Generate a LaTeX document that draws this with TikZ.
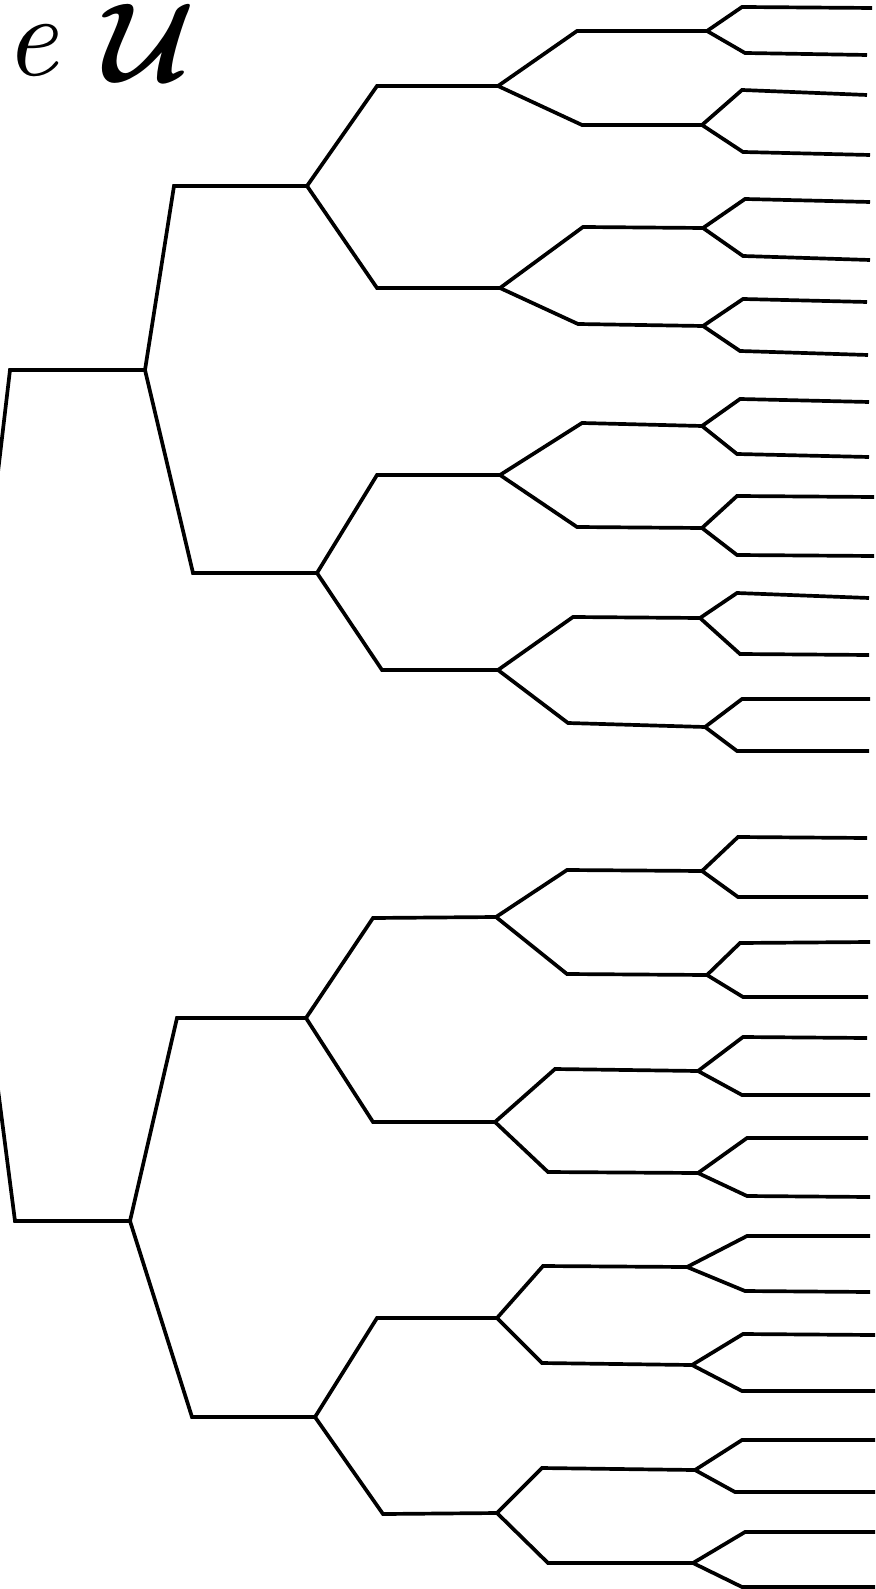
\documentclass[tikz,border=0pt]{standalone}
\usepackage{fontspec}
\usepackage{graphicx}
\newcommand\mybranch[6]{\coordinate (#2s) at (#3,#4); \coordinate (#2) at (#5,#6); \draw[branch] (#1) -- (#2s) -- (#2);}
\newcommand\bigU{\scalebox{3.2}{\boldmath$\mathcal{U}$}}
\newcommand\bige{\scalebox{3.3}{\itshape e}}
\tikzset{branch/.style={line width=1.05pt, line join=miter, line cap=butt, draw=black},
  captiontext/.style={inner sep=0}}
\begin{document}
\begin{tikzpicture}[x=0.01cm, y=-0.01cm]
\useasboundingbox (0,0) rectangle (875,1589);
\fill[white] (0,0) rectangle (875,1589);
% caption fragment
\node[captiontext, anchor=base west] (txte) at (4,76) {\bige};
\node[captiontext, anchor=base east] (txtU) at (196,82) {\bigU};
\clip (0,0) rectangle (875,1589);
% root (off picture)
\coordinate (R) at (-40,795);
\mybranch{R}{A}{10}{370}{145}{370}
\mybranch{R}{B}{15}{1221}{130}{1221}
% level 2
\mybranch{A}{A1}{174}{186}{307}{186}
\mybranch{A}{A2}{193}{573}{317}{573}
\mybranch{B}{B1}{177}{1018}{306}{1018}
\mybranch{B}{B2}{192}{1417}{315}{1417}
% level 3
\mybranch{A1}{A1a}{377}{86}{498}{86}
\mybranch{A1}{A1b}{377}{288}{500}{288}
\mybranch{A2}{A2a}{377}{475}{500}{475}
\mybranch{A2}{A2b}{382}{670}{498}{670}
\mybranch{B1}{B1a}{373}{918}{496}{917}
\mybranch{B1}{B1b}{373}{1122}{495}{1122}
\mybranch{B2}{B2a}{377}{1318}{497}{1318}
\mybranch{B2}{B2b}{383}{1514}{497}{1513}
% level 4
\mybranch{A1a}{a1}{577}{31}{707}{31}
\mybranch{A1a}{a2}{582}{125}{702}{125}
\mybranch{A1b}{a3}{583}{227}{703}{228}
\mybranch{A1b}{a4}{578}{324}{703}{326}
\mybranch{A2a}{a5}{582}{423}{702}{426}
\mybranch{A2a}{a6}{577}{527}{702}{528}
\mybranch{A2b}{a7}{573}{617}{700}{618}
\mybranch{A2b}{a8}{568}{723}{705}{727}
\mybranch{B1a}{b1}{567}{870}{702}{871}
\mybranch{B1a}{b2}{567}{974}{707}{975}
\mybranch{B1b}{b3}{555}{1069}{698}{1071}
\mybranch{B1b}{b4}{548}{1172}{698}{1173}
\mybranch{B2a}{b5}{543}{1266}{687}{1267}
\mybranch{B2a}{b6}{542}{1363}{692}{1365}
\mybranch{B2b}{b7}{542}{1468}{695}{1470}
\mybranch{B2b}{b8}{548}{1563}{693}{1563}
% leaves
\mybranch{a1}{a1u}{742}{7}{872}{8}
\mybranch{a1}{a1d}{745}{53}{867}{55}
\mybranch{a2}{a2u}{742}{90}{867}{95}
\mybranch{a2}{a2d}{743}{152}{870}{155}
\mybranch{a3}{a3u}{745}{199}{870}{202}
\mybranch{a3}{a3d}{743}{256}{870}{260}
\mybranch{a4}{a4u}{743}{299}{867}{302}
\mybranch{a4}{a4d}{740}{351}{868}{355}
\mybranch{a5}{a5u}{740}{399}{869}{402}
\mybranch{a5}{a5d}{737}{454}{869}{457}
\mybranch{a6}{a6u}{737}{496}{874}{497}
\mybranch{a6}{a6d}{737}{555}{874}{556}
\mybranch{a7}{a7u}{737}{593}{869}{598}
\mybranch{a7}{a7d}{740}{654}{869}{655}
\mybranch{a8}{a8u}{742}{699}{870}{699}
\mybranch{a8}{a8d}{737}{751}{869}{751}
\mybranch{b1}{b1u}{738}{837}{867}{838}
\mybranch{b1}{b1d}{738}{897}{868}{897}
\mybranch{b2}{b2u}{740}{943}{870}{942}
\mybranch{b2}{b2d}{743}{997}{868}{997}
\mybranch{b3}{b3u}{743}{1037}{867}{1038}
\mybranch{b3}{b3d}{742}{1095}{870}{1095}
\mybranch{b4}{b4u}{747}{1138}{868}{1138}
\mybranch{b4}{b4d}{747}{1196}{870}{1197}
\mybranch{b5}{b5u}{747}{1236}{870}{1236}
\mybranch{b5}{b5d}{745}{1291}{870}{1292}
\mybranch{b6}{b6u}{743}{1334}{875}{1335}
\mybranch{b6}{b6d}{742}{1391}{875}{1391}
\mybranch{b7}{b7u}{742}{1440}{875}{1440}
\mybranch{b7}{b7d}{735}{1492}{875}{1492}
\mybranch{b8}{b8u}{745}{1532}{875}{1532}
\mybranch{b8}{b8d}{742}{1587}{875}{1587}
\end{tikzpicture}
\end{document}
